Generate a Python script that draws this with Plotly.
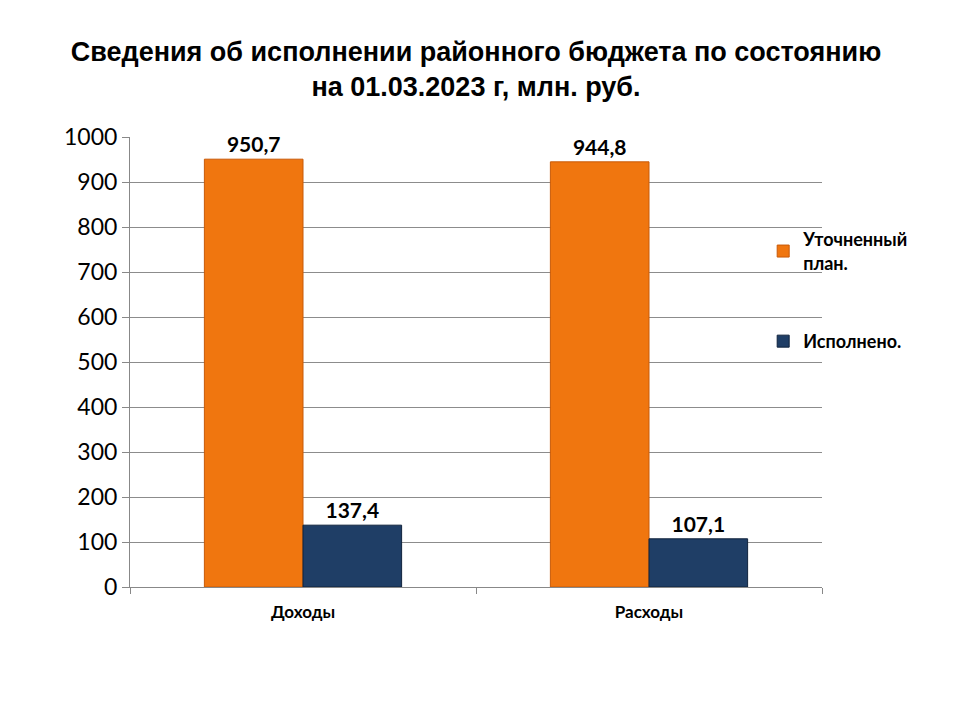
import plotly.graph_objects as go

categories = ["Доходы", "Расходы"]
plan_values = [950.7, 944.8]
done_values = [137.4, 107.1]
plan_labels = ["950,7", "944,8"]
done_labels = ["137,4", "107,1"]
series_names = ["Уточненный<br>план.", "Исполнено."]
y_ticks = [0, 100, 200, 300, 400, 500, 600, 700, 800, 900, 1000]

fig = go.Figure()
fig.add_trace(go.Bar(
    x=categories, y=plan_values, name=series_names[0], legendgroup="a",
    text=plan_labels, textposition="outside", cliponaxis=False,
    marker=dict(color="#F0760F", line=dict(color="#C85A08", width=1)),
    textfont=dict(family="Lato, Liberation Sans", size=21, color="black", weight="bold"),
))
fig.add_trace(go.Bar(
    x=categories, y=done_values, name=series_names[1], legendgroup="b",
    text=done_labels, textposition="outside", cliponaxis=False,
    marker=dict(color="#1F3E66", line=dict(color="#10233D", width=1)),
    textfont=dict(family="Lato, Liberation Sans", size=21, color="black", weight="bold"),
))

fig.update_layout(
    width=960, height=720,
    paper_bgcolor="white", plot_bgcolor="white",
    margin=dict(l=122, r=146, t=129, b=141),
    bargap=0.43, bargroupgap=0,
    title=dict(
        text="Сведения об исполнении районного бюджета по состоянию<br>на 01.03.2023 г, млн. руб.",
        x=0.5, xref="paper", xanchor="center", y=0.927, yanchor="middle",
        font=dict(family="Liberation Sans Narrow, Arial Narrow, Liberation Sans", size=27, color="black", weight="bold"),
    ),
    xaxis=dict(
        showline=True, linecolor="#888888", linewidth=1,
        ticks="outside", tickson="boundaries", ticklen=6, tickcolor="#888888",
        tickfont=dict(family="Lato, Liberation Sans", size=17, color="black", weight="bold"),
        ticklabelstandoff=10,
        showgrid=False,
    ),
    yaxis=dict(
        range=[0, 1000], tickvals=y_ticks,
        showline=True, linecolor="#888888", linewidth=1,
        ticks="outside", ticklen=7, tickcolor="#888888",
        showgrid=True, gridcolor="#8c8c8c", gridwidth=1,
        tickfont=dict(family="Lato, Liberation Sans", size=23, color="black"),
        zeroline=False,
    ),
    legend=dict(
        x=0.915, xanchor="left", y=0.813, yanchor="top",
        bgcolor="rgba(0,0,0,0)",
        font=dict(family="Lato, Liberation Sans", size=18, color="black", weight="bold"),
        tracegroupgap=52, traceorder="grouped",
    ),
)

fig.write_html("out.html")
